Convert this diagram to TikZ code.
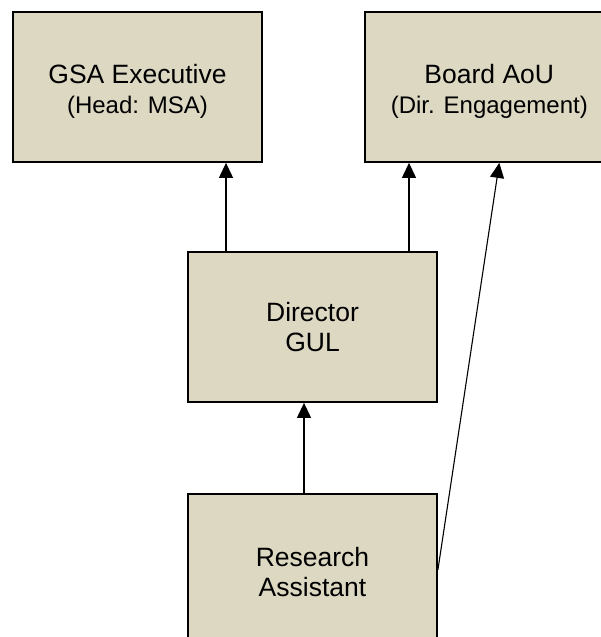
\documentclass[tikz,border=0pt]{standalone}
\usepackage{fontspec}
\setmainfont{Liberation Sans}
\usetikzlibrary{positioning, arrows.meta}
\definecolor{boxfill}{HTML}{DCD8C2}
\tikzset{
  x=1pt, y=-1pt,
  box/.style={draw, line width=1.8pt, fill=boxfill, minimum width=249pt,
              minimum height=150pt, inner sep=0pt, align=center,
              font=\fontsize{26.5}{30}\selectfont},
  link/.style={-{Triangle[length=15pt,width=14pt]}, line width=1.1pt},
}
% second, smaller line of a box (with a strut on the first line)
\newcommand{\smallline}[1]{{\fontsize{24}{30}\selectfont #1}}
\newcommand{\topstrut}{\rule{0pt}{28pt}}

\begin{document}
\begin{tikzpicture}
  \path[use as bounding box, clip] (0,0) rectangle (601,637);

  \node[box]                    (gsa)   at (137.5,87)  {\topstrut GSA Executive\\\smallline{(Head: MSA)}};
  \node[box, right=101pt of gsa] (board)                {\topstrut Board AoU\\\smallline{(Dir. Engagement)}};
  \node[box]                    (dir)   at (312.5,327) {Director\\GUL};
  \node[box, minimum height=156pt, below=90pt of dir] (ra) {Research\\Assistant};

  % reporting lines
  \draw[link] ([xshift=-86.5pt]dir.north) -- ([xshift=-86.5pt]dir.north |- gsa.south);
  \draw[link] ([xshift=96.5pt]dir.north)  -- ([xshift=96.5pt]dir.north |- board.south);
  \draw[link] ([xshift=-8.5pt]ra.north)   -- ([xshift=-8.5pt]ra.north |- dir.south);
  \draw[link] ([yshift=2pt]ra.east)       -- ([xshift=10pt]board.south);
\end{tikzpicture}
\end{document}
